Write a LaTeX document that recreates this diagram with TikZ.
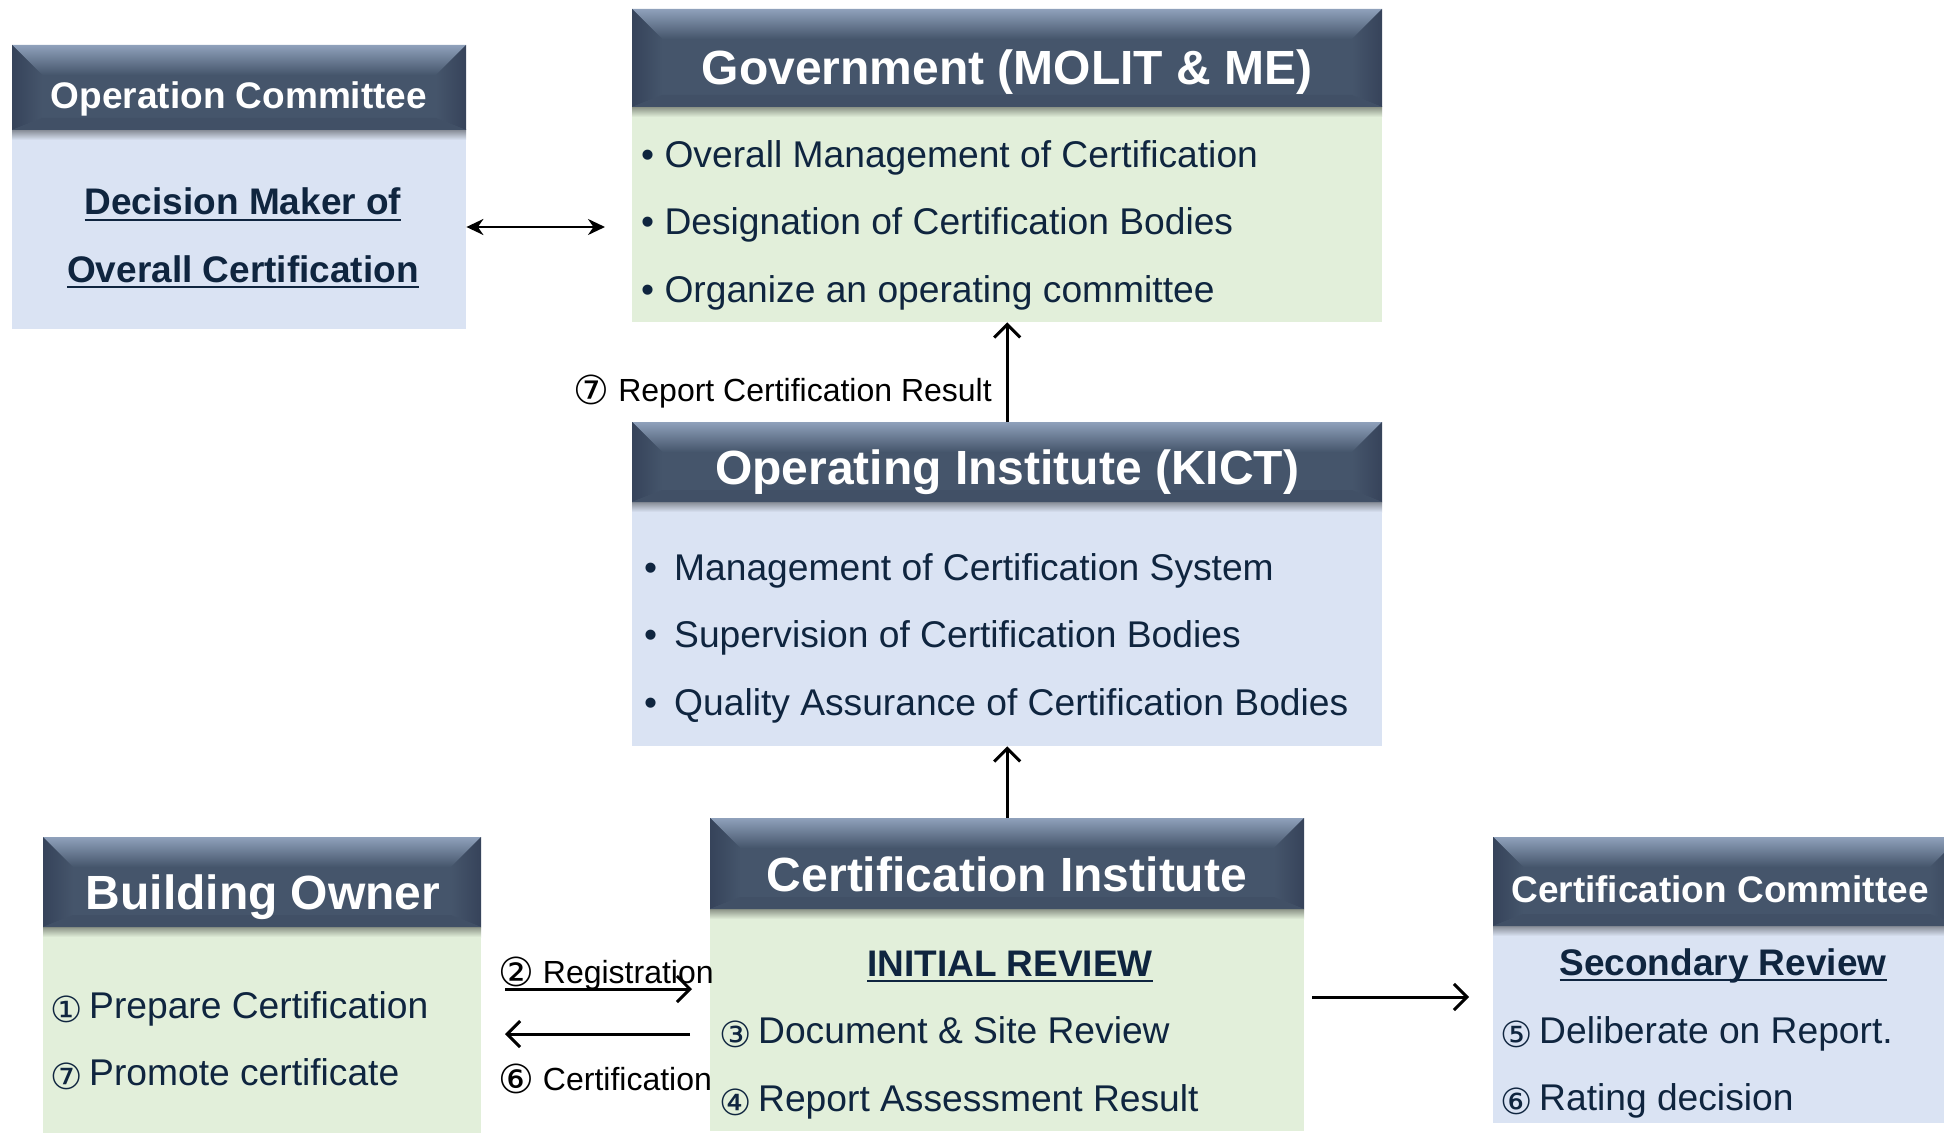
\documentclass[tikz,border=0pt]{standalone}
\usepackage{fontspec}
\setmainfont{Liberation Sans}
\newfontfamily\circfont{DejaVu Sans}
\usetikzlibrary{arrows.meta}

\definecolor{hdrmain}{HTML}{45556B}
\definecolor{hdrtop}{HTML}{8FA1BB}
\definecolor{hdrside}{HTML}{36435A}
\definecolor{hdrbot}{HTML}{415066}
\definecolor{bodygreen}{HTML}{E2EFDA}
\definecolor{bodyblue}{HTML}{DAE3F3}
\definecolor{inktext}{HTML}{0F253F}

% underline placed a little below the baseline
\newcommand\ulined[1]{\setbox0=\hbox{#1}\rlap{\rule[-0.17em]{\wd0}{0.065em}}\box0}
% circled step numbers
\newcommand\stepno[1]{\makebox[39pt][l]{\raisebox{-4pt}{\circfont\fontsize{36}{40}\selectfont #1}}}
\newcommand\lblno[1]{\raisebox{-3pt}{\circfont\fontsize{40}{44}\selectfont #1}}

% plain coloured body of a box: name, x1, y1, x2, y2, colour
\newcommand\bodypanel[6]{%
  \pgfmathsetmacro\bw{#4-#2}\pgfmathsetmacro\bh{#5-#3}%
  \node[anchor=north west, inner sep=0pt, draw=none, fill=#6,
        minimum width=\bw pt, minimum height=\bh pt] (#1) at (#2,#3) {};
}
% bevelled title bar: name, x1, y1, x2, y2, colour of the body below
\newcommand\bevelhead[6]{%
  \pgfmathsetmacro\bxa{#2+30}\pgfmathsetmacro\bxb{#4-30}%
  \pgfmathsetmacro\bya{#3+30}\pgfmathsetmacro\byb{#5-12}%
  \pgfmathsetmacro\byc{#5+10}%
  \pgfmathsetmacro\bw{#4-#2}\pgfmathsetmacro\bh{#5-#3}%
  \shade[top color=black!38!#6, bottom color=#6] (#2,#5) rectangle (#4,\byc);
  \fill[hdrmain] (#2,#3) rectangle (#4,#5);
  \shade[top color=hdrtop, bottom color=hdrmain]
    (#2,#3) -- (#4,#3) -- (\bxb,\bya) -- (\bxa,\bya) -- cycle;
  \shade[left color=hdrside, right color=hdrmain]
    (#2,#3) -- (\bxa,\bya) -- (\bxa,\byb) -- (#2,#5) -- cycle;
  \shade[left color=hdrmain, right color=hdrside]
    (#4,#3) -- (\bxb,\bya) -- (\bxb,\byb) -- (#4,#5) -- cycle;
  \fill[hdrbot] (#2,#5) -- (\bxa,\byb) -- (\bxb,\byb) -- (#4,#5) -- cycle;
  \node[anchor=north west, inner sep=0pt, draw=none,
        minimum width=\bw pt, minimum height=\bh pt] (#1) at (#2,#3) {};
}

\tikzset{
  headtext/.style={text=white, font=\bfseries\fontsize{48}{56}\selectfont,
                   anchor=base, inner sep=0pt},
  headsmall/.style={headtext, font=\bfseries\fontsize{37}{44}\selectfont},
  bodytext/.style={text=inktext, font=\fontsize{37.2}{44}\selectfont,
                   anchor=base west, inner sep=0pt},
  leadtext/.style={text=inktext, font=\bfseries\fontsize{37}{44}\selectfont,
                   anchor=base, inner sep=0pt},
  flowlabel/.style={text=black, font=\fontsize{32}{38}\selectfont,
                    anchor=base west, inner sep=0pt},
  flow/.style={line width=3pt, -{Straight Barb[length=13pt,width=26pt]}},
  link/.style={line width=2.6pt, {Stealth[length=17pt,width=16pt]}-{Stealth[length=17pt,width=16pt]}},
}

\begin{document}
\begin{tikzpicture}[x=1pt, y=-1pt]
\useasboundingbox (0,0) rectangle (1944,1134);
\fill[white] (0,0) rectangle (1944,1134);
\clip (0,0) rectangle (1944,1134);

% ---- box bodies
\bodypanel{ocbody}{12}{130}{466}{329}{bodyblue}
\bodypanel{govbody}{632}{107}{1382}{322}{bodygreen}
\bodypanel{oibody}{632}{502}{1382}{746}{bodyblue}
\bodypanel{bobody}{43}{927}{481}{1133}{bodygreen}
\bodypanel{cibody}{710}{909}{1304}{1131}{bodygreen}
\bodypanel{ccbody}{1493}{926}{1960}{1123}{bodyblue}

% ---- title bars
\bevelhead{ochead}{12}{45}{466}{130}{bodyblue}
\bevelhead{govhead}{632}{9}{1382}{107}{bodygreen}
\bevelhead{oihead}{632}{422}{1382}{502}{bodyblue}
\bevelhead{bohead}{43}{837}{481}{927}{bodygreen}
\bevelhead{cihead}{710}{818}{1304}{909}{bodygreen}
\bevelhead{cchead}{1493}{837}{1960}{926}{bodyblue}

% ---- titles
\node[headsmall] (octitle) at (239,109) {Operation Committee};
\node[headtext] (govtitle) at (1007,85) {Government (MOLIT \& ME)};
\node[headtext] (oititle) at (1007,484) {Operating Institute (KICT)};
\node[headtext] (bottitle) at (263,909) {Building Owner};
\node[headtext] (cititle) at (1007,891) {Certification Institute};
\node[headsmall] (cctitle) at (1720,902) {Certification Committee};

% ---- Operation Committee
\node[leadtext] (oc1) at (243,215) {\ulined{Decision Maker of}};
\node[leadtext] (oc2) at (243,282) {\ulined{Overall Certification}};

% ---- Government
\node[bodytext] (gov1) at (641,168) {• Overall Management of Certification};
\node[bodytext] (gov2) at (641,235) {• Designation of Certification Bodies};
\node[bodytext] (gov3) at (641,302) {• Organize an operating committee};

% ---- Operating Institute
\node[bodytext] (oib1) at (644,580) {•};
\node[bodytext] (oi1) at (674,580) {Management of Certification System};
\node[bodytext] (oib2) at (644,647) {•};
\node[bodytext] (oi2) at (674,647) {Supervision of Certification Bodies};
\node[bodytext] (oib3) at (644,715) {•};
\node[bodytext] (oi3) at (674,715) {Quality Assurance of Certification Bodies};

% ---- Building Owner
\node[bodytext] (bo1) at (50,1018) {\stepno{①}Prepare Certification};
\node[bodytext] (bo2) at (50,1085) {\stepno{⑦}Promote certificate};

% ---- Certification Institute
\node[leadtext] (cilead) at (1010,976) {\ulined{INITIAL REVIEW}};
\node[bodytext] (ci1) at (719,1043) {\stepno{③}Document \& Site Review};
\node[bodytext] (ci2) at (719,1111) {\stepno{④}Report Assessment Result};

% ---- Certification Committee
\node[leadtext] (cclead) at (1723,975) {\ulined{Secondary Review}};
\node[bodytext] (cc1) at (1500,1043) {\stepno{⑤}Deliberate on Report.};
\node[bodytext] (cc2) at (1500,1110) {\stepno{⑥}Rating decision};

% ---- connectors
\draw[link, shorten >=27pt] (ocbody.east |- 0,227) -- (govbody.west |- 0,227);
\draw[flow] (oihead.north) -- (govbody.south);
\draw[flow] (cihead.north) -- (oibody.south);

\coordinate (regfrom) at (505,989);
\coordinate (regto) at (692,989);
\coordinate (certfrom) at (690,1034);
\coordinate (certto) at (505,1034);
\coordinate (revfrom) at (1312,997);
\coordinate (revto) at (1469,997);
\draw[flow] (regfrom) -- (regto);
\draw[flow] (certfrom) -- (certto);
\draw[flow] (revfrom) -- (revto);

% ---- flow labels
\node[flowlabel, anchor=base east] (lblreport) at (992,401) {\lblno{⑦} Report Certification Result};
\node[flowlabel] (lblreg) at (498,983) {\lblno{②} Registration};
\node[flowlabel] (lblcert) at (498,1090) {\lblno{⑥} Certification};
\end{tikzpicture}
\end{document}
